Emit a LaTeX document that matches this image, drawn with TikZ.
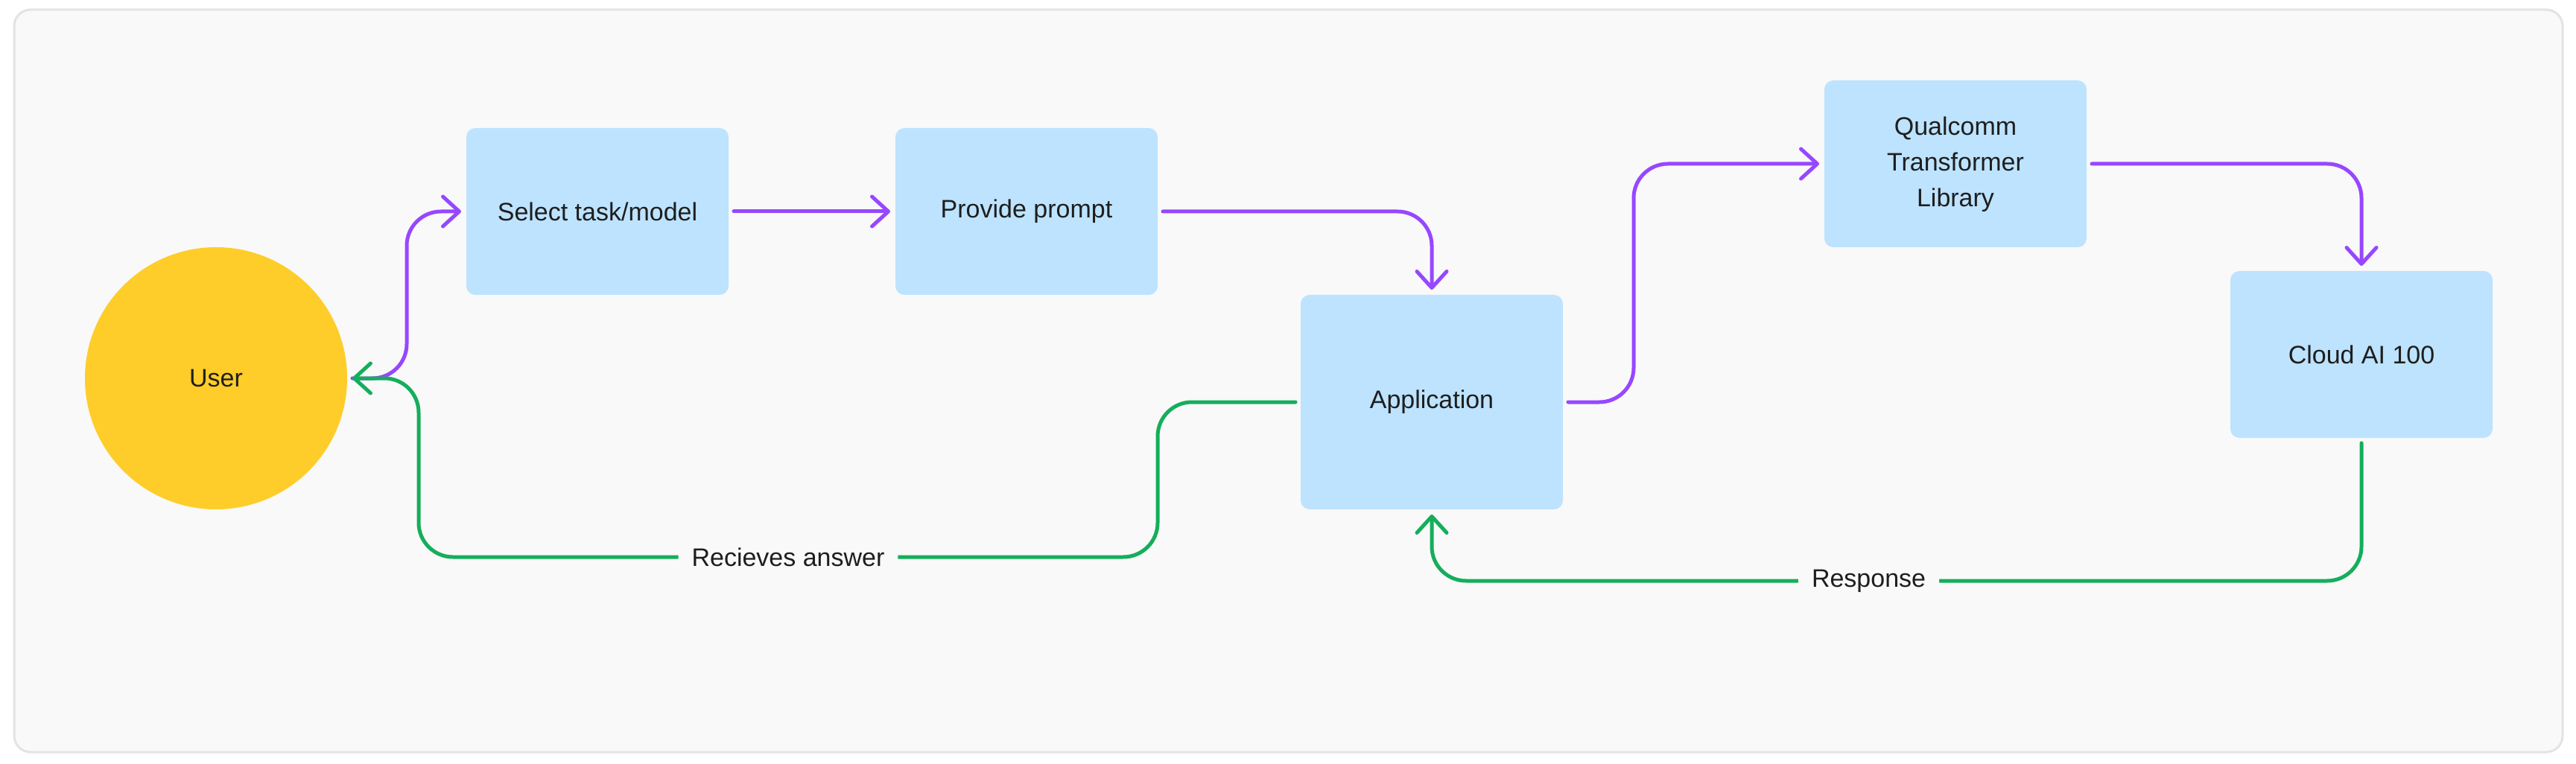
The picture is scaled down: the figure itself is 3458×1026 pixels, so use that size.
\documentclass[tikz,border=0pt]{standalone}
\usepackage{fontspec}
\setmainfont{Liberation Sans}
\usetikzlibrary{arrows.meta}
\definecolor{bgc}{HTML}{F9F9F9}
\definecolor{framec}{HTML}{E3E3E3}
\definecolor{boxc}{HTML}{BDE3FF}
\definecolor{userc}{HTML}{FFCD29}
\definecolor{purp}{HTML}{9747FF}
\definecolor{grn}{HTML}{14AE5C}
\definecolor{txt}{HTML}{1E1E1E}
\tikzset{
  lbl/.style={font=\fontsize{17}{24}\selectfont, text=txt},
  blk/.style={lbl, fill=boxc, rounded corners=6pt, minimum width=176pt, minimum height=112pt, outer sep=3.5pt, align=center, inner sep=0pt},
  flowp/.style={draw=purp, line width=2.5pt, line cap=round, rounded corners=23pt, -{Straight Barb[length=11pt,width=20pt,round]}},
  flowg/.style={draw=grn, line width=2.5pt, line cap=round, rounded corners=23pt, -{Straight Barb[length=11pt,width=20pt,round]}},
  elbl/.style={lbl, fill=bgc, draw=bgc, line width=2pt, inner xsep=8pt, inner ysep=2pt}
}
\begin{document}
\begin{tikzpicture}[x=0.5pt,y=-0.5pt]
\useasboundingbox (0,0) rectangle (3458,1026);
\draw[fill=bgc, draw=framec, line width=1.5pt, rounded corners=11pt] (19,13) rectangle (3440,1010);
\node[lbl, circle, fill=userc, minimum size=176pt, outer sep=3.5pt, inner sep=0pt] (user) at (290,508) {User};
\node[blk] (sel) at (802,284) {Select task/model};
\node[blk] (prov) at (1378,284) {Provide prompt};
\node[blk, minimum height=144pt] (app) at (1922,540) {Application};
\node[blk] (qtl) at (2625,220) {\strut Qualcomm\\\strut Transformer\\\strut Library};
\node[blk] (cloud) at (3170,476) {Cloud AI 100};
\coordinate (g1) at (1554,748);
\coordinate (g2) at (562,748);
\coordinate (r1) at (3170,780);
\coordinate (r2) at (1922,780);
\draw[flowp] (user.east) -- ++(73,0) |- (sel.west);
\draw[flowp] (sel.east) -- (prov.west);
\draw[flowp] (prov.east) -| (app.north);
\draw[flowp] (app.east) -- ++(88,0) |- (qtl.west);
\draw[flowp] (qtl.east) -| (cloud.north);
\draw[flowg] (app.west) -| (g1) -- node[elbl] (lans) {Recieves answer} (g2) |- (user.east);
\draw[flowg] (cloud.south) -- (r1) -- node[elbl, pos=0.53] (lresp) {Response} (r2) -- (app.south);
\end{tikzpicture}
\end{document}
